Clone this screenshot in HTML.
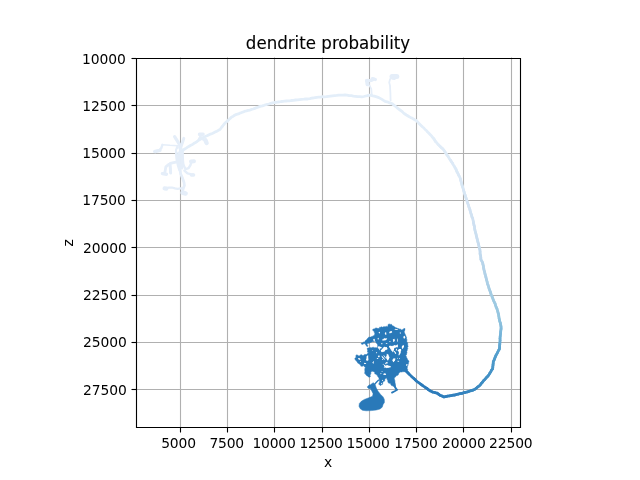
<!DOCTYPE html>
<html><head><meta charset="utf-8"><title>dendrite probability</title>
<style>
html,body{margin:0;padding:0;background:#fff;}
body{width:640px;height:480px;overflow:hidden;}
svg{display:block;}
text{font-family:"DejaVu Sans","Liberation Sans",sans-serif;fill:#000;}
.t{font-size:13.89px;}
.g{stroke:#b0b0b0;stroke-width:1.11;fill:none;}
.k{stroke:#000;stroke-width:1.11;fill:none;}
.n{fill:none;stroke-linecap:round;stroke-linejoin:round;}
</style></head><body>
<svg width="640" height="480" viewBox="0 0 640 480">
<rect width="640" height="480" fill="#fff"/>

<g class="g">
<path d="M180.5 57.6V427.2"/>
<path d="M227.5 57.6V427.2"/>
<path d="M274.5 57.6V427.2"/>
<path d="M322.5 57.6V427.2"/>
<path d="M369.5 57.6V427.2"/>
<path d="M416.5 57.6V427.2"/>
<path d="M463.5 57.6V427.2"/>
<path d="M511.5 57.6V427.2"/>
<path d="M136.0 58.5H520.0"/>
<path d="M136.0 105.5H520.0"/>
<path d="M136.0 153.5H520.0"/>
<path d="M136.0 200.5H520.0"/>
<path d="M136.0 247.5H520.0"/>
<path d="M136.0 295.5H520.0"/>
<path d="M136.0 342.5H520.0"/>
<path d="M136.0 389.5H520.0"/>
</g>
<clipPath id="c"><rect x="136" y="57.6" width="384" height="369.6"/></clipPath>
<g class="n" clip-path="url(#c)">
<path d="M174.6 136.6L176.8 140.2L179.4 144.4L180.2 147.5" stroke="#e5eef9" stroke-width="3.2"/>
<path d="M183.8 138.4L182.6 142.0L181.2 146.0L180.6 148.0" stroke="#e5eef9" stroke-width="3.0"/>
<path d="M177.5 145.7L170.0 145.3L162.4 144.7" stroke="#e5eef9" stroke-width="1.6"/>
<path d="M162.4 144.8L161.3 148.1L159.4 150.0L156.3 151.2L154.2 151.6" stroke="#e5eef9" stroke-width="2.4"/>
<path d="M155.0 151.5L160.0 150.4" stroke="#e5eef9" stroke-width="3.4"/>
<path d="M180.5 146.0L180.1 150.0L179.5 155.0L179.4 162.5L180.0 169.4L180.6 173.8L182.5 178.1L184.0 182.5L184.4 185.6L183.2 188.8L182.6 191.3L184.0 193.2" stroke="#e5eef9" stroke-width="2.78"/>
<path d="M177.4 147.2L176.3 150.2L176.4 155.0L177.0 160.0L178.2 165.5L179.6 170.0" stroke="#e5eef9" stroke-width="2.78"/>
<path d="M182.4 150.0L182.5 155.0L182.7 160.0L183.1 164.4" stroke="#e5eef9" stroke-width="2.78"/>
<path d="M179.0 152.5L179.0 165.0" stroke="#e5eef9" stroke-width="3.2"/>
<path d="M181.5 152.0L181.8 168.0" stroke="#e5eef9" stroke-width="3.0"/>
<path d="M177.0 161.8L171.3 163.1L168.8 164.4L165.8 166.9L165.1 171.3L164.4 173.4" stroke="#e5eef9" stroke-width="2.78"/>
<path d="M162.4 173.6L166.4 174.2" stroke="#e5eef9" stroke-width="3.4"/>
<path d="M170.0 164.0L170.4 168.5L170.6 173.0" stroke="#e5eef9" stroke-width="3.0"/>
<path d="M183.1 164.4L185.6 169.2L188.6 168.1L190.5 165.0L191.2 162.6" stroke="#e5eef9" stroke-width="2.4"/>
<path d="M191.0 161.6L194.0 161.2" stroke="#e5eef9" stroke-width="4.0"/>
<path d="M184.4 170.6L187.5 173.4L190.6 174.2L193.6 174.6" stroke="#e5eef9" stroke-width="2.4"/>
<path d="M191.4 175.0L193.6 175.0" stroke="#e5eef9" stroke-width="3.4"/>
<path d="M182.5 188.2L177.5 188.8L175.0 188.4L171.9 187.5L168.8 187.6L165.8 188.2" stroke="#e5eef9" stroke-width="2.2"/>
<path d="M164.6 188.4L166.4 188.6" stroke="#e5eef9" stroke-width="4.2"/>
<path d="M182.6 192.8L185.6 193.4" stroke="#e5eef9" stroke-width="4.6"/>
<path d="M198.8 139.6L200.4 136.5L201.6 134.4" stroke="#e5eef9" stroke-width="2.4"/>
<path d="M199.6 134.4L203.0 134.2" stroke="#e5eef9" stroke-width="3.6"/>
<path d="M202.5 139.0L205.5 140.2L206.2 142.2" stroke="#e5eef9" stroke-width="2.6"/>
<path d="M205.4 140.2L206.6 143.0" stroke="#e5eef9" stroke-width="4.4"/>
<path d="M371.8 95.0L371.3 88.8L369.5 85.4" stroke="#e5eef9" stroke-width="1.7"/>
<path d="M367.2 80.8L367.6 84.2" stroke="#e5eef9" stroke-width="4.2"/>
<path d="M366.6 80.6L371.0 80.4L373.6 79.2" stroke="#e5eef9" stroke-width="3.4"/>
<path d="M372.4 78.6L375.4 79.6" stroke="#e5eef9" stroke-width="3.2"/>
<path d="M390.6 100.5L390.4 93.0L390.0 85.6L389.2 82.5L390.0 79.4L391.4 77.2" stroke="#e5eef9" stroke-width="1.8"/>
<path d="M392.0 76.6L396.8 76.6" stroke="#e5eef9" stroke-width="5.0"/>
<path d="M392.5 78.4L394.5 78.6" stroke="#e5eef9" stroke-width="2.6"/>
<ellipse cx="177.9" cy="150.6" rx="0.8" ry="1.8" fill="#fff"/>
<path d="M182.5 150.6L184.4 149.2L186.2 148.1L187.6 147.2L189.2 146.2L190.8 145.2L192.5 144.5L194.0 143.3L195.7 142.5L197.2 141.3L198.9 140.2L200.3 139.3L201.6 138.3L203.0 137.6L205.2 136.6L207.5 135.6L209.1 134.8L210.5 134.1L212.3 133.5L213.7 132.8L215.3 131.9L217.0 131.2L218.4 130.3L220.0 129.5L221.3 127.7L222.7 126.0L223.8 124.5L224.9 123.2L226.1 122.1L227.6 120.9L228.9 119.6L230.1 118.5L231.3 117.2L233.3 116.2L235.0 115.0L236.5 114.4L238.4 113.9L240.1 113.0L241.6 112.6L243.2 111.9L244.9 111.2L246.5 110.9L248.2 110.4L250.0 110.1L251.4 109.4L253.2 109.0L254.8 108.4L256.2 107.7L257.8 107.3L259.5 106.6L260.9 106.2L262.4 105.8L264.1 105.3L265.5 104.8L267.2 104.4L268.9 104.0L270.7 103.4L272.6 102.8L274.5 102.5L276.2 102.3L277.8 102.0L279.5 101.8L281.2 101.5L282.9 101.3L284.6 101.1L286.2 101.0L287.8 100.9L289.5 100.9L291.3 100.5L293.3 100.3L295.4 100.0L297.6 99.9L299.6 99.6L301.6 99.3L303.8 99.2L306.0 99.0L307.8 99.0L310.0 98.6L311.7 98.2L313.3 98.0L315.1 97.6L316.8 97.3L318.7 97.2L320.6 97.1L322.4 96.7L324.5 96.8L326.4 96.7L328.5 96.4L330.4 96.1L332.5 95.8L334.5 95.6L336.6 95.4L338.9 95.1L341.0 95.2L343.1 95.1L344.9 95.0L347.0 95.2L349.2 95.6L351.4 95.7L353.4 96.1L355.3 96.3L357.6 96.7L359.8 96.7L361.9 96.9L363.8 96.5L365.8 96.0L367.5 95.7L369.5 95.1L371.0 95.4L372.9 95.9L374.3 96.2L376.7 96.9L378.8 97.6L380.2 98.4L382.0 99.4L383.5 100.4L385.0 101.3L387.0 101.8L388.7 102.4L390.5 103.2L392.4 103.8L393.6 105.0L395.0 105.9L396.3 107.1L397.5 108.2L400.0 110.0L401.3 110.9L402.5 111.9L403.6 113.1L404.9 114.0L406.4 115.0L407.7 115.8L409.2 116.7L410.5 117.4L411.9 118.1L413.5 119.0L414.9 119.9L416.4 120.6L417.6 121.9L418.8 123.2L420.0 124.4L421.3 125.7L422.6 127.0L423.9 128.0L425.1 129.5L426.4 130.5L427.4 131.8L428.7 133.0L429.9 134.4L431.4 135.7L432.2 137.0L433.4 138.2" stroke="#e3eef9" stroke-width="2.78"/>
<path d="M433.4 138.2L434.5 139.8" stroke="#e2eef8" stroke-width="2.78"/>
<path d="M434.5 139.8L435.3 141.2" stroke="#e2eef8" stroke-width="2.78"/>
<path d="M435.3 141.2L436.4 142.4L437.6 143.9L438.7 145.0" stroke="#e2edf8" stroke-width="2.78"/>
<path d="M438.7 145.0L440.0 146.2" stroke="#e2edf8" stroke-width="2.78"/>
<path d="M440.0 146.2L441.2 147.5" stroke="#e1ecf8" stroke-width="2.78"/>
<path d="M441.2 147.5L442.6 148.6" stroke="#e0ecf8" stroke-width="2.78"/>
<path d="M442.6 148.6L443.8 150.0L444.7 151.4" stroke="#e0ecf8" stroke-width="2.78"/>
<path d="M444.7 151.4L445.8 153.0" stroke="#e0ecf8" stroke-width="2.78"/>
<path d="M445.8 153.0L446.7 154.6" stroke="#dfecf8" stroke-width="2.78"/>
<path d="M446.7 154.6L447.9 156.1" stroke="#deebf7" stroke-width="2.78"/>
<path d="M447.9 156.1L448.7 157.4L449.6 159.1L450.6 160.3" stroke="#deebf7" stroke-width="2.78"/>
<path d="M450.6 160.3L451.6 162.0" stroke="#deeaf7" stroke-width="2.78"/>
<path d="M451.6 162.0L452.6 163.3" stroke="#deeaf7" stroke-width="2.78"/>
<path d="M452.6 163.3L453.4 165.0L454.4 166.4L455.1 167.8" stroke="#ddeaf7" stroke-width="2.78"/>
<path d="M455.1 167.8L456.1 169.5" stroke="#dceaf7" stroke-width="2.78"/>
<path d="M456.1 169.5L456.7 171.2" stroke="#dceaf7" stroke-width="2.78"/>
<path d="M456.7 171.2L457.6 172.8" stroke="#dceaf6" stroke-width="2.78"/>
<path d="M457.6 172.8L458.3 174.4" stroke="#dce9f6" stroke-width="2.78"/>
<path d="M458.3 174.4L459.1 176.0" stroke="#dce9f6" stroke-width="2.78"/>
<path d="M459.1 176.0L460.0 177.5L460.5 179.2" stroke="#dbe9f6" stroke-width="2.78"/>
<path d="M460.5 179.2L460.8 180.6" stroke="#dae8f6" stroke-width="2.78"/>
<path d="M460.8 180.6L461.3 182.3" stroke="#dae8f6" stroke-width="2.78"/>
<path d="M461.3 182.3L461.7 183.9" stroke="#dae8f6" stroke-width="2.78"/>
<path d="M461.7 183.9L462.1 185.5" stroke="#d9e8f5" stroke-width="2.78"/>
<path d="M462.1 185.5L462.6 187.1" stroke="#d8e8f5" stroke-width="2.78"/>
<path d="M462.6 187.1L463.2 188.7L463.6 190.3" stroke="#d8e7f5" stroke-width="2.78"/>
<path d="M463.6 190.3L464.1 191.9" stroke="#d8e6f5" stroke-width="2.78"/>
<path d="M464.1 191.9L464.5 193.5" stroke="#d7e6f5" stroke-width="2.78"/>
<path d="M464.5 193.5L465.2 195.2" stroke="#d7e6f4" stroke-width="2.78"/>
<path d="M465.2 195.2L465.5 196.8" stroke="#d7e6f4" stroke-width="2.78"/>
<path d="M465.5 196.8L466.2 198.3" stroke="#d6e6f4" stroke-width="2.78"/>
<path d="M466.2 198.3L466.7 200.0L467.2 201.8" stroke="#d6e5f4" stroke-width="2.78"/>
<path d="M467.2 201.8L467.7 203.3" stroke="#d6e4f4" stroke-width="2.78"/>
<path d="M467.7 203.3L468.4 205.1" stroke="#d4e4f4" stroke-width="2.78"/>
<path d="M468.4 205.1L468.8 206.8" stroke="#d4e4f4" stroke-width="2.78"/>
<path d="M468.8 206.8L469.5 208.4" stroke="#d4e4f3" stroke-width="2.78"/>
<path d="M469.5 208.4L470.0 210.0" stroke="#d4e3f3" stroke-width="2.78"/>
<path d="M470.0 210.0L470.4 211.6" stroke="#d2e3f3" stroke-width="2.78"/>
<path d="M470.4 211.6L470.9 213.4" stroke="#d2e2f3" stroke-width="2.78"/>
<path d="M470.9 213.4L471.5 214.9" stroke="#d2e2f2" stroke-width="2.78"/>
<path d="M471.5 214.9L471.9 216.8" stroke="#d2e2f2" stroke-width="2.78"/>
<path d="M471.9 216.8L472.7 218.4" stroke="#d0e2f2" stroke-width="2.78"/>
<path d="M472.7 218.4L473.0 219.9L473.4 221.7" stroke="#d0e1f2" stroke-width="2.78"/>
<path d="M473.4 221.7L473.6 223.3" stroke="#d0e1f2" stroke-width="2.78"/>
<path d="M473.6 223.3L474.0 225.1" stroke="#cee0f2" stroke-width="2.78"/>
<path d="M474.0 225.1L474.5 226.7" stroke="#cee0f2" stroke-width="2.78"/>
<path d="M474.5 226.7L474.6 228.5" stroke="#cee0f1" stroke-width="2.78"/>
<path d="M474.6 228.5L474.9 230.0" stroke="#cee0f1" stroke-width="2.78"/>
<path d="M474.9 230.0L475.3 231.6" stroke="#cce0f1" stroke-width="2.78"/>
<path d="M475.3 231.6L475.8 233.3" stroke="#cce0f1" stroke-width="2.78"/>
<path d="M475.8 233.3L476.2 235.0" stroke="#ccdff0" stroke-width="2.78"/>
<path d="M476.2 235.0L476.5 236.6" stroke="#ccdff0" stroke-width="2.78"/>
<path d="M476.5 236.6L477.0 238.3" stroke="#cadef0" stroke-width="2.78"/>
<path d="M477.0 238.3L477.4 239.9" stroke="#cadef0" stroke-width="2.78"/>
<path d="M477.4 239.9L477.8 241.6" stroke="#cadef0" stroke-width="2.78"/>
<path d="M477.8 241.6L478.3 243.3" stroke="#c8def0" stroke-width="2.78"/>
<path d="M478.3 243.3L478.7 245.0" stroke="#c8dcef" stroke-width="2.78"/>
<path d="M478.7 245.0L479.1 246.8" stroke="#c6dcef" stroke-width="2.78"/>
<path d="M479.1 246.8L479.4 248.3" stroke="#c6dcee" stroke-width="2.78"/>
<path d="M479.4 248.3L479.9 249.9" stroke="#c4dcee" stroke-width="2.78"/>
<path d="M479.9 249.9L480.1 251.9" stroke="#c4daee" stroke-width="2.78"/>
<path d="M480.1 251.9L480.1 253.9" stroke="#c2daee" stroke-width="2.78"/>
<path d="M480.1 253.9L480.6 255.7" stroke="#c2daee" stroke-width="2.78"/>
<path d="M480.6 255.7L480.8 257.6" stroke="#c0d9ed" stroke-width="2.78"/>
<path d="M480.8 257.6L480.9 259.4" stroke="#c0d8ed" stroke-width="2.78"/>
<path d="M480.9 259.4L481.8 261.1" stroke="#bed7ec" stroke-width="2.78"/>
<path d="M481.8 261.1L482.6 262.6" stroke="#bad6eb" stroke-width="2.78"/>
<path d="M482.6 262.6L482.9 264.2" stroke="#b8d5ea" stroke-width="2.78"/>
<path d="M482.9 264.2L483.3 265.8" stroke="#b8d4ea" stroke-width="2.78"/>
<path d="M483.3 265.8L483.5 267.2" stroke="#b6d4e9" stroke-width="2.78"/>
<path d="M483.5 267.2L483.8 268.9" stroke="#b6d4e9" stroke-width="2.78"/>
<path d="M483.8 268.9L484.2 270.7" stroke="#b6d3e9" stroke-width="2.78"/>
<path d="M484.2 270.7L484.7 272.2" stroke="#b4d2e8" stroke-width="2.78"/>
<path d="M484.7 272.2L485.0 273.9" stroke="#b4d2e8" stroke-width="2.78"/>
<path d="M485.0 273.9L485.4 275.3" stroke="#b2d2e8" stroke-width="2.78"/>
<path d="M485.4 275.3L485.9 277.2" stroke="#b2d2e8" stroke-width="2.78"/>
<path d="M485.9 277.2L486.3 278.8" stroke="#b0d0e7" stroke-width="2.78"/>
<path d="M486.3 278.8L486.7 280.3" stroke="#afd0e7" stroke-width="2.78"/>
<path d="M486.7 280.3L487.2 282.1" stroke="#aed0e6" stroke-width="2.78"/>
<path d="M487.2 282.1L487.4 283.7" stroke="#acd0e6" stroke-width="2.78"/>
<path d="M487.4 283.7L488.1 285.3" stroke="#accfe6" stroke-width="2.78"/>
<path d="M488.1 285.3L488.7 287.1" stroke="#aacee6" stroke-width="2.78"/>
<path d="M488.7 287.1L489.1 288.6" stroke="#aacee5" stroke-width="2.78"/>
<path d="M489.1 288.6L489.7 290.3" stroke="#a8cee4" stroke-width="2.78"/>
<path d="M489.7 290.3L490.3 291.8" stroke="#a6cde4" stroke-width="2.78"/>
<path d="M490.3 291.8L490.8 293.3" stroke="#a6cce4" stroke-width="2.78"/>
<path d="M490.8 293.3L491.2 294.9" stroke="#a4cce3" stroke-width="2.78"/>
<path d="M491.2 294.9L492.1 296.7" stroke="#a4cce3" stroke-width="2.78"/>
<path d="M492.1 296.7L492.8 298.4" stroke="#a2cce3" stroke-width="2.78"/>
<path d="M492.8 298.4L493.4 300.2" stroke="#a1cbe2" stroke-width="2.78"/>
<path d="M493.4 300.2L494.3 302.1" stroke="#a0cae2" stroke-width="2.78"/>
<path d="M494.3 302.1L495.1 303.7" stroke="#9ecae2" stroke-width="2.78"/>
<path d="M495.1 303.7L495.6 305.5" stroke="#9ecae2" stroke-width="2.78"/>
<path d="M495.6 305.5L496.2 307.2" stroke="#9cc9e2" stroke-width="2.78"/>
<path d="M496.2 307.2L497.0 308.9" stroke="#9cc8e1" stroke-width="2.78"/>
<path d="M497.0 308.9L497.6 310.9" stroke="#9ac8e0" stroke-width="2.78"/>
<path d="M497.6 310.9L498.0 312.5" stroke="#9ac8e0" stroke-width="2.78"/>
<path d="M498.0 312.5L498.6 314.5" stroke="#98c6e0" stroke-width="2.78"/>
<path d="M498.6 314.5L498.8 316.2" stroke="#96c6e0" stroke-width="2.78"/>
<path d="M498.8 316.2L499.1 318.3" stroke="#95c6de" stroke-width="2.78"/>
<path d="M499.1 318.3L499.5 320.0" stroke="#93c4de" stroke-width="2.78"/>
<path d="M499.5 320.0L499.8 321.6" stroke="#90c3de" stroke-width="2.78"/>
<path d="M499.8 321.6L500.4 323.1" stroke="#8ec2de" stroke-width="2.78"/>
<path d="M500.4 323.1L500.7 324.8" stroke="#8cc0dd" stroke-width="2.78"/>
<path d="M500.7 324.8L501.0 326.5" stroke="#89bedc" stroke-width="2.78"/>
<path d="M501.0 326.5L501.1 328.1" stroke="#86bddc" stroke-width="2.78"/>
<path d="M501.1 328.1L501.0 329.5" stroke="#84bbdc" stroke-width="2.78"/>
<path d="M501.0 329.5L500.7 331.3" stroke="#80b9da" stroke-width="2.78"/>
<path d="M500.7 331.3L500.6 332.9" stroke="#7cb8da" stroke-width="2.78"/>
<path d="M500.6 332.9L500.4 334.6" stroke="#79b6da" stroke-width="2.78"/>
<path d="M500.4 334.6L500.2 336.4" stroke="#76b4d8" stroke-width="2.78"/>
<path d="M500.2 336.4L500.0 338.4" stroke="#72b2d8" stroke-width="2.78"/>
<path d="M500.0 338.4L500.1 340.3" stroke="#6eb0d6" stroke-width="2.78"/>
<path d="M500.1 340.3L499.9 342.6" stroke="#6aadd6" stroke-width="2.78"/>
<path d="M499.9 342.6L499.8 344.1" stroke="#66abd4" stroke-width="2.78"/>
<path d="M499.8 344.1L499.6 345.7" stroke="#64a9d3" stroke-width="2.78"/>
<path d="M499.6 345.7L499.6 347.4" stroke="#60a7d2" stroke-width="2.78"/>
<path d="M499.6 347.4L499.4 349.0" stroke="#5ea5d0" stroke-width="2.78"/>
<path d="M499.4 349.0L498.5 350.5" stroke="#5ba3d0" stroke-width="2.78"/>
<path d="M498.5 350.5L497.6 352.4" stroke="#59a2ce" stroke-width="2.78"/>
<path d="M497.6 352.4L496.8 354.0" stroke="#56a0ce" stroke-width="2.78"/>
<path d="M496.8 354.0L495.9 355.4" stroke="#549fce" stroke-width="2.78"/>
<path d="M495.9 355.4L495.3 356.9" stroke="#529ecc" stroke-width="2.78"/>
<path d="M495.3 356.9L494.6 358.6" stroke="#519ccc" stroke-width="2.78"/>
<path d="M494.6 358.6L494.1 360.1" stroke="#509ccc" stroke-width="2.78"/>
<path d="M494.1 360.1L493.3 361.6" stroke="#4e9aca" stroke-width="2.78"/>
<path d="M493.3 361.6L493.2 363.3" stroke="#4d9aca" stroke-width="2.78"/>
<path d="M493.2 363.3L493.0 365.0" stroke="#4c98ca" stroke-width="2.78"/>
<path d="M493.0 365.0L492.8 367.0" stroke="#4a98c8" stroke-width="2.78"/>
<path d="M492.8 367.0L492.6 368.8" stroke="#4996c8" stroke-width="2.78"/>
<path d="M492.6 368.8L491.5 370.2" stroke="#4896c8" stroke-width="2.78"/>
<path d="M491.5 370.2L490.8 371.8" stroke="#4694c8" stroke-width="2.78"/>
<path d="M490.8 371.8L489.7 373.4" stroke="#4694c6" stroke-width="2.78"/>
<path d="M489.7 373.4L488.7 375.1" stroke="#4492c6" stroke-width="2.78"/>
<path d="M488.7 375.1L487.7 376.3" stroke="#4492c6" stroke-width="2.78"/>
<path d="M487.7 376.3L486.3 377.7" stroke="#4290c6" stroke-width="2.78"/>
<path d="M486.3 377.7L485.1 379.2" stroke="#4290c4" stroke-width="2.78"/>
<path d="M485.1 379.2L483.7 380.5" stroke="#408ec4" stroke-width="2.78"/>
<path d="M483.7 380.5L482.5 382.1" stroke="#408ec4" stroke-width="2.78"/>
<path d="M482.5 382.1L481.3 383.4" stroke="#3e8ec4" stroke-width="2.78"/>
<path d="M481.3 383.4L480.2 385.0" stroke="#3e8cc2" stroke-width="2.78"/>
<path d="M480.2 385.0L478.8 386.2" stroke="#3e8cc2" stroke-width="2.78"/>
<path d="M478.8 386.2L477.4 387.2" stroke="#3c8cc2" stroke-width="2.78"/>
<path d="M477.4 387.2L476.2 388.2" stroke="#3c8ac2" stroke-width="2.78"/>
<path d="M476.2 388.2L474.9 389.3" stroke="#3a8ac1" stroke-width="2.78"/>
<path d="M474.9 389.3L473.1 390.1" stroke="#3a88c1" stroke-width="2.78"/>
<path d="M473.1 390.1L471.3 390.6" stroke="#3888c0" stroke-width="2.78"/>
<path d="M471.3 390.6L469.3 391.3" stroke="#3888c0" stroke-width="2.78"/>
<path d="M469.3 391.3L467.5 391.9" stroke="#3886c0" stroke-width="2.78"/>
<path d="M467.5 391.9L465.5 392.3" stroke="#3686c0" stroke-width="2.78"/>
<path d="M465.5 392.3L463.9 392.7" stroke="#3684c0" stroke-width="2.78"/>
<path d="M463.9 392.7L461.9 393.4" stroke="#3684be" stroke-width="2.78"/>
<path d="M461.9 393.4L460.1 393.7" stroke="#3482be" stroke-width="2.78"/>
<path d="M460.1 393.7L458.2 394.1" stroke="#3482be" stroke-width="2.78"/>
<path d="M458.2 394.1L456.5 394.5" stroke="#3482be" stroke-width="2.78"/>
<path d="M456.5 394.5L454.9 395.0" stroke="#3381be" stroke-width="2.78"/>
<path d="M454.9 395.0L453.2 395.1" stroke="#3280bd" stroke-width="2.78"/>
<path d="M453.2 395.1L451.2 395.7" stroke="#3280bd" stroke-width="2.78"/>
<path d="M451.2 395.7L449.5 395.9" stroke="#3280bd" stroke-width="2.78"/>
<path d="M449.5 395.9L447.6 396.1" stroke="#3080bc" stroke-width="2.78"/>
<path d="M447.6 396.1L445.6 396.6" stroke="#307ebc" stroke-width="2.78"/>
<path d="M445.6 396.6L443.9 396.9" stroke="#307ebc" stroke-width="2.78"/>
<path d="M443.9 396.9L442.0 396.0" stroke="#2e7ebc" stroke-width="2.78"/>
<path d="M442.0 396.0L439.9 395.2" stroke="#2e7ebc" stroke-width="2.78"/>
<path d="M439.9 395.2L438.5 394.2" stroke="#2e7cbc" stroke-width="2.78"/>
<path d="M438.5 394.2L437.1 393.1" stroke="#2e7cbc" stroke-width="2.78"/>
<path d="M437.1 393.1L434.8 392.6" stroke="#2e7cba" stroke-width="2.78"/>
<path d="M434.8 392.6L432.5 392.0" stroke="#2e7cba" stroke-width="2.78"/>
<path d="M432.5 392.0L429.9 390.7" stroke="#2c7cba" stroke-width="2.78"/>
<path d="M429.9 390.7L428.4 389.7" stroke="#2c7bba" stroke-width="2.78"/>
<path d="M428.4 389.7L426.9 388.4" stroke="#2c7aba" stroke-width="2.78"/>
<path d="M426.9 388.4L425.2 387.3" stroke="#2c7aba" stroke-width="2.78"/>
<path d="M425.2 387.3L423.8 386.4L422.1 385.1" stroke="#2b7aba" stroke-width="2.78"/>
<path d="M422.1 385.1L420.7 384.1" stroke="#2a7aba" stroke-width="2.78"/>
<path d="M420.7 384.1L419.0 382.9L417.5 381.8L416.2 380.8L415.2 379.7" stroke="#2a7aba" stroke-width="2.78"/>
<path d="M415.2 379.7L413.9 378.5" stroke="#2a7aba" stroke-width="2.78"/>
<path d="M413.9 378.5L412.5 377.3L411.4 376.4L410.0 374.9L408.8 373.8" stroke="#2a7ab9" stroke-width="2.78"/>
<path d="M408.8 373.8L407.5 372.4" stroke="#2a7ab9" stroke-width="2.78"/>
<path d="M407.5 372.4L406.3 371.4L404.9 369.9L403.6 368.8L402.4 367.6L401.0 366.5" stroke="#2979b9" stroke-width="2.78"/>
<path d="M379.79 327.24L380.85 327.21L382.00 326.70L382.46 327.24L383.61 326.69L385.00 326.76L385.67 326.64L386.31 326.26L387.11 326.71L387.82 326.49L388.09 325.00L388.31 324.47L388.74 323.92L389.99 324.18L390.68 324.40L391.47 324.34L391.92 325.01L392.66 325.88L393.70 325.98L393.84 326.57L395.24 327.25L395.70 327.64L396.41 327.86L397.08 328.17L398.07 328.57L398.95 328.74L399.86 329.19L400.49 328.93L401.41 329.97L402.22 330.06L402.77 329.37L403.57 329.26L403.83 328.45L404.98 328.79L404.37 329.74L404.63 330.32L404.19 331.77L404.30 332.14L404.59 333.09L405.17 334.26L405.74 335.62L405.87 336.47L406.15 336.56L406.58 337.56L406.46 338.89L406.99 339.72L406.73 341.33L407.15 342.43L407.82 343.00L407.54 343.92L407.77 344.78L407.77 345.60L408.15 346.31L407.64 347.31L407.39 347.81L407.88 348.82L407.39 349.33L407.13 350.71L406.67 351.67L407.01 352.15L406.78 353.25L406.59 353.93L406.39 355.02L405.62 355.25L406.44 356.80L406.40 357.23L406.97 357.96L407.27 358.75L407.75 359.78L408.17 360.40L409.02 360.92L408.68 362.41L408.30 362.93L408.52 363.87L407.85 364.95L407.96 365.46L407.36 366.42L407.47 367.28L407.18 367.84L407.14 369.02L407.94 369.66L407.78 370.20L407.19 370.75L406.58 371.77L405.25 371.82L404.65 371.71L403.71 371.68L402.24 371.83L401.84 372.02L400.68 371.98L399.94 371.83L399.70 372.46L398.34 373.92L398.40 374.79L397.21 375.39L396.78 375.44L395.80 376.57L395.13 377.22L394.23 377.97L394.24 378.63L394.59 379.69L394.83 380.38L394.96 381.77L395.04 382.82L394.92 383.39L394.11 384.36L394.14 384.84L394.03 385.67L393.33 386.65L392.79 385.74L391.80 385.72L391.28 385.23L390.53 383.81L390.03 383.35L388.90 383.13L388.67 382.94L387.76 382.11L387.90 381.84L387.74 380.42L387.31 379.79L386.84 378.91L386.52 377.70L385.29 378.75L384.70 379.65L384.75 381.02L383.40 381.47L382.95 382.05L382.68 383.42L382.57 384.29L381.30 384.86L380.30 385.64L379.97 384.90L378.66 384.14L379.03 383.45L379.49 382.24L379.64 381.40L379.25 380.40L379.20 379.86L379.04 379.06L378.97 377.90L378.53 377.42L377.66 376.37L377.44 375.90L377.22 374.97L376.57 374.78L375.43 374.00L374.70 373.75L374.83 373.01L374.63 372.03L373.79 371.65L372.48 371.37L371.60 370.71L371.75 371.57L370.74 372.55L370.90 373.54L370.12 374.91L370.10 375.74L370.44 376.57L369.91 376.96L369.04 377.13L368.39 376.88L367.72 375.94L367.12 375.97L365.95 374.86L365.82 374.63L365.03 373.48L364.50 373.19L365.00 371.98L364.79 370.95L364.88 369.93L364.67 368.90L365.38 367.73L364.66 366.80L364.09 366.54L363.54 365.61L362.49 366.21L361.92 366.32L360.74 366.07L360.87 365.15L359.95 364.58L358.80 363.56L357.86 363.17L357.35 362.05L357.05 361.80L356.14 360.76L355.43 360.08L354.77 358.81L355.27 357.87L356.28 357.41L355.89 356.39L355.86 355.72L356.61 354.79L357.52 355.01L358.14 355.73L359.06 356.05L359.52 355.68L360.55 354.92L361.19 354.87L361.72 354.68L362.29 355.47L363.42 355.44L364.33 354.64L364.58 354.43L365.35 354.56L366.69 354.39L367.00 354.04L367.85 353.36L368.98 352.77L367.47 352.17L367.56 350.84L367.71 350.14L367.18 348.92L367.45 348.09L368.15 348.05L369.62 347.77L370.18 347.44L370.84 347.75L371.59 347.81L373.03 347.18L373.85 347.40L374.52 347.71L374.94 347.64L376.02 347.74L376.51 347.70L377.87 347.64L377.56 346.36L377.56 345.72L377.77 345.14L377.25 343.95L376.92 343.50L376.14 342.91L375.52 341.30L374.71 341.31L373.20 341.78L372.38 341.64L371.67 342.12L370.65 342.44L369.30 343.17L368.70 343.33L367.19 343.59L367.05 344.57L367.76 345.27L367.70 346.40L367.02 346.58L366.32 345.90L366.13 345.47L365.63 344.80L365.09 343.62L363.68 343.59L363.12 344.33L361.55 344.15L361.13 343.19L362.38 342.95L363.12 342.22L363.89 342.00L364.92 342.05L365.09 341.03L365.99 340.09L366.44 340.01L367.13 339.01L367.39 338.57L368.03 338.28L368.65 337.14L369.89 337.09L370.78 337.08L371.20 336.77L372.63 336.19L373.47 335.82L374.15 335.52L374.63 334.40L374.82 333.41L374.45 332.87L374.18 331.38L373.57 330.93L372.44 329.89L373.32 329.03L374.30 329.08L374.86 328.40L376.11 327.88L377.19 328.33L378.19 328.50L378.99 328.27L379.65 328.15Z" fill="#2979b9" stroke="#2979b9" stroke-width="0.5"/>
<path d="M388.87 346.04L389.95 345.78L390.50 345.65L391.06 345.81L392.08 346.18L392.51 345.63L393.25 345.69L394.62 345.08L395.79 345.48L396.43 345.14L396.96 344.64L398.02 344.54L397.88 345.45L397.85 346.38L398.16 347.41L397.48 347.32L396.73 347.36L395.97 347.17L395.60 347.75L394.80 347.72L394.29 348.14L394.07 348.74L394.06 349.59L393.81 350.23L393.57 351.51L392.70 352.13L392.55 352.18L392.24 351.34L391.34 350.68L391.17 349.66L390.15 348.90L390.28 348.45L389.37 347.45L389.01 346.54Z" fill="#fff"/>
<path d="M383.58 347.29L384.50 346.84L384.91 346.82L385.91 347.14L387.01 347.06L387.03 348.05L386.89 348.86L386.30 349.61L385.64 350.02L385.04 350.41L384.70 351.54L384.11 351.56L382.74 352.35L382.21 351.80L381.69 352.27L380.97 351.15L380.78 350.29L381.54 349.66L382.05 349.06L382.20 348.99L382.94 347.95Z" fill="#fff"/>
<path d="M377.86 346.31L378.86 346.56L379.31 346.34L380.05 346.64L381.17 346.88L381.82 347.23L381.38 348.26L381.00 348.52L379.81 348.47L379.69 350.02L379.19 350.18L379.00 349.45L378.87 348.78L377.85 348.31L377.99 347.30Z" fill="#fff"/>
<path d="M397.36 350.12L398.36 349.90L398.80 349.12L399.74 349.00L400.38 348.96L401.34 348.97L400.97 349.48L401.24 350.41L400.72 351.52L400.81 351.96L400.63 353.10L400.07 353.89L399.71 354.50L399.35 355.22L399.19 355.24L398.49 355.16L398.53 354.56L398.85 353.23L399.05 352.68L398.46 351.71L398.52 351.31L397.77 350.62Z" fill="#fff"/>
<path d="M374.84 340.10L374.84 341.01L374.17 341.32L373.67 340.84L373.40 340.38L373.21 339.73L373.52 339.03L374.18 338.82L374.78 339.26Z" fill="#fff"/>
<path d="M392.01 331.36L392.05 331.75L392.18 332.20L391.78 332.83L390.95 332.87L390.41 333.30L389.92 333.25L389.36 333.21L389.40 332.71L389.22 332.19L389.77 331.53L390.59 331.30L391.22 331.04L391.50 331.37Z" fill="#fff"/>
<path d="M398.31 329.77L397.89 329.88L397.64 330.04L396.65 329.80L396.10 329.96L395.52 329.66L394.88 329.49L394.65 329.29L394.31 329.07L394.48 328.91L395.21 328.96L395.54 328.82L396.29 328.90L397.15 329.03L397.30 329.32L397.63 329.50Z" fill="#fff"/>
<path d="M401.02 333.10L400.70 333.60L400.14 333.82L399.79 333.34L399.65 332.79L400.17 332.51L400.83 332.44Z" fill="#fff"/>
<path d="M405.38 337.40L405.06 338.11L404.60 338.34L404.14 339.00L403.74 338.34L403.37 337.79L403.42 337.03L403.56 336.16L404.16 336.04L404.78 335.87L404.92 336.83Z" fill="#fff"/>
<path d="M387.27 338.49L386.39 339.07L387.02 339.32L386.26 339.73L385.78 340.14L384.99 340.35L384.35 340.46L383.83 340.49L383.42 340.44L382.79 340.54L382.27 340.48L382.31 340.15L382.20 339.85L382.06 339.45L383.35 339.17L383.56 338.67L384.29 338.26L385.03 338.27L385.40 338.52L386.14 338.31L387.02 338.20Z" fill="#fff"/>
<path d="M395.17 340.30L394.56 340.82L394.37 341.33L394.03 341.92L393.50 341.90L393.13 341.32L393.17 340.57L392.76 339.88L393.02 339.13L393.65 339.30L394.02 338.84L394.55 338.88L394.61 339.74Z" fill="#fff"/>
<path d="M397.76 340.00L397.68 340.60L397.66 341.34L397.53 341.64L397.40 342.01L397.24 341.94L397.12 341.44L397.04 340.77L397.02 340.00L397.04 339.23L397.21 339.02L397.27 338.40L397.40 338.67L397.54 338.29L397.63 338.83L397.63 339.50Z" fill="#fff"/>
<path d="M382.45 343.60L382.28 344.25L381.45 344.37L381.18 343.60L381.57 343.03L382.18 343.12Z" fill="#fff"/>
<path d="M403.70 347.21L403.48 347.83L403.15 348.33L402.76 348.51L402.24 349.00L401.95 348.51L401.83 347.87L401.80 347.13L401.92 346.26L402.45 345.83L402.84 345.21L403.34 344.90L403.68 345.30L403.94 345.78L404.10 346.44Z" fill="#fff"/>
<path d="M387.52 348.70L387.25 349.43L386.78 349.85L386.23 349.81L385.82 349.36L385.61 348.70L385.77 347.99L386.28 347.78L386.71 347.86L387.30 347.92Z" fill="#fff"/>
<path d="M368.26 358.40L368.53 359.10L368.38 359.69L368.31 360.41L367.89 360.17L367.76 360.77L367.54 361.34L367.30 360.54L367.01 360.95L366.80 360.58L366.48 360.44L366.06 360.16L366.10 359.20L366.48 358.40L366.46 357.82L366.60 357.36L366.39 356.15L366.78 356.14L367.09 356.34L367.23 354.87L367.54 355.47L367.76 356.05L368.24 355.36L368.23 356.56L368.16 357.40L368.32 357.83Z" fill="#fff"/>
<path d="M360.56 358.90L360.26 359.71L359.35 359.67L358.75 359.62L358.42 359.16L358.03 358.51L358.55 357.88L359.39 357.90L359.82 358.43Z" fill="#fff"/>
<path d="M366.15 363.40L365.73 363.69L365.33 364.11L364.43 364.03L363.89 363.64L364.14 363.21L364.53 362.86L365.25 362.93L366.09 362.95Z" fill="#fff"/>
<path d="M373.70 362.60L373.73 363.24L373.43 363.54L373.11 363.75L372.86 363.32L372.69 362.88L372.38 362.16L372.87 361.89L373.10 361.28L373.52 361.28L373.86 361.81Z" fill="#fff"/>
<path d="M379.67 356.40L379.60 356.93L379.08 357.35L378.28 357.37L377.77 356.77L378.13 356.15L378.36 355.55L379.06 355.57L379.73 355.77Z" fill="#fff"/>
<path d="M384.51 359.38L385.06 360.30L384.39 359.66L384.00 359.38L383.54 358.93L383.06 358.47L382.50 357.92L381.96 357.25L381.53 356.61L381.41 356.23L381.89 356.48L381.90 356.34L381.89 356.18L381.58 355.55L382.11 356.06L382.33 356.03L382.94 356.92L383.42 357.15L383.78 357.79L384.12 358.28L384.55 358.85L384.64 359.15L385.28 360.03Z" fill="#fff"/>
<path d="M385.96 358.22L385.50 357.90L385.27 357.88L384.80 357.57L384.29 356.86L383.99 356.36L383.38 355.67L383.70 355.70L383.65 355.47L383.51 355.03L383.93 355.32L384.41 355.67L384.89 356.36L385.17 356.83L385.59 357.36L385.56 357.55Z" fill="#fff"/>
<path d="M389.67 357.10L389.33 357.85L389.10 358.48L388.91 359.10L388.55 359.41L388.40 360.54L387.87 359.75L387.48 360.44L387.00 360.55L386.91 359.26L386.82 358.56L385.95 358.82L385.80 357.98L386.49 357.10L385.89 356.26L386.67 356.08L386.62 355.30L386.70 354.38L386.98 353.54L387.53 354.48L387.91 353.92L388.25 354.39L388.52 354.87L388.68 355.48L388.83 355.99L388.87 356.56Z" fill="#fff"/>
<path d="M390.29 366.60L391.18 366.97L390.41 367.23L389.88 367.47L389.08 367.56L388.58 367.76L387.98 367.99L387.20 367.64L386.28 368.24L386.11 367.52L384.96 367.74L384.40 367.51L383.59 367.31L384.51 366.85L384.09 366.60L384.91 366.39L383.91 365.96L384.06 365.58L385.54 365.76L385.58 365.23L386.40 365.18L387.20 365.33L388.11 364.98L388.18 365.77L389.57 365.40L389.08 365.99L390.51 365.95L390.91 366.26Z" fill="#fff"/>
<path d="M395.67 352.17L396.15 352.92L396.19 353.49L395.84 353.49L395.69 353.62L395.64 354.10L395.20 353.92L394.80 353.04L394.50 352.49L394.13 351.85L393.83 351.06L394.23 351.12L394.42 350.93L394.75 350.92L395.20 351.81Z" fill="#fff"/>
<path d="M395.02 360.65L394.51 360.97L394.10 361.46L393.43 362.18L392.96 361.63L392.80 361.00L392.40 360.61L392.10 359.94L392.84 359.39L393.18 358.84L393.66 358.30L394.16 358.79L395.00 358.09L395.33 358.71L395.31 359.43L395.05 360.04Z" fill="#fff"/>
<path d="M387.66 362.80L387.59 363.28L387.04 363.79L386.36 363.36L385.53 363.14L385.95 362.57L386.35 362.23L387.03 361.84L387.53 362.36Z" fill="#fff"/>
<path d="M407.64 365.10L407.16 365.61L406.70 365.95L406.24 365.62L405.88 365.10L406.07 364.39L406.70 364.24L407.51 364.21Z" fill="#fff"/>
<path d="M386.07 374.30L386.05 374.81L385.18 374.97L384.50 374.90L384.00 374.80L383.06 374.78L383.32 374.30L383.45 373.95L383.80 373.61L384.50 373.27L385.30 373.51L385.95 373.82Z" fill="#fff"/>
<path d="M399.34 361.20L399.03 361.57L398.30 361.64L397.68 361.51L397.38 361.20L397.61 360.86L398.30 360.66L398.81 360.95Z" fill="#fff"/>
<path d="M378.42 358.60L378.09 358.87L377.60 359.03L377.08 358.89L376.63 358.60L376.93 358.23L377.60 357.95L378.37 358.17Z" fill="#fff"/>
<path d="M383.72 364.40L383.40 364.82L382.93 364.96L382.77 364.40L382.99 363.96L383.51 363.77Z" fill="#fff"/>
<path d="M386.43 363.60L386.20 364.20L385.62 364.17L385.20 363.60L385.53 362.84L386.23 362.94Z" fill="#fff"/>
<path d="M396.95 349.70L396.72 350.20L396.40 350.86L395.94 350.43L395.84 349.70L396.06 349.17L396.40 348.72L396.95 348.83Z" fill="#fff"/>
<path d="M380.04 332.60L379.78 333.42L379.11 333.22L378.65 332.60L379.04 331.82L379.63 332.10Z" fill="#fff"/>
<path d="M386.24 333.60L386.48 334.50L385.78 334.85L385.19 334.46L384.92 333.90L384.83 333.26L385.12 332.58L385.80 332.24L386.35 332.83Z" fill="#fff"/>
<path d="M378.74 338.70L378.65 339.53L378.10 339.55L377.71 339.28L377.57 338.70L377.80 338.24L378.10 337.81L378.63 337.90Z" fill="#fff"/>
<path d="M387.34 343.50L387.16 343.88L386.40 343.84L385.93 343.74L385.63 343.50L385.94 343.27L386.40 343.10L387.17 343.11Z" fill="#fff"/>
<path d="M390.89 341.50L390.46 341.75L389.90 341.98L389.28 341.78L389.19 341.50L389.28 341.22L389.90 341.19L390.42 341.27Z" fill="#fff"/>
<path d="M397.89 358.40L397.69 358.76L397.30 358.78L397.10 358.40L397.24 357.90L397.81 357.82Z" fill="#fff"/>
<path d="M400.06 358.40L399.71 358.72L399.26 358.78L398.85 358.40L399.19 357.92L399.79 357.95Z" fill="#fff"/>
<path d="M385.08 365.40L384.70 366.05L384.16 365.92L383.90 365.40L384.16 364.86L384.65 364.86Z" fill="#fff"/>
<path d="M360.95 361.50L360.81 362.03L360.31 361.84L360.15 361.50L360.23 361.04L360.75 361.06Z" fill="#fff"/>
<path d="M383.01 359.40L382.80 360.03L382.20 360.03L382.09 359.40L382.29 358.96L382.73 358.93Z" fill="#fff"/>
<path d="M383.08 380.50L382.71 380.89L382.20 381.07L381.79 380.50L382.30 380.13L382.85 379.84Z" fill="#fff"/>
<path d="M381.94 383.40L381.71 383.94L381.11 383.90L381.02 383.40L381.21 383.08L381.72 382.85Z" fill="#fff"/>
<path d="M382.42 371.60L382.25 372.11L381.77 372.08L381.56 371.60L381.79 371.15L382.29 371.00Z" fill="#fff"/>
<path d="M381.51 373.60L381.28 374.09L380.68 374.15L380.38 373.60L380.71 373.10L381.23 373.20Z" fill="#fff"/>
<path d="M377.16 352.60L376.83 353.16L376.28 353.37L376.06 352.60L376.42 352.16L376.88 351.93Z" fill="#fff"/>
<path d="M372.81 350.60L372.60 350.95L372.24 350.87L371.91 350.60L372.24 350.32L372.61 350.24Z" fill="#fff"/>
<path d="M378.4 380.2L376.4 382.2L374.6 384.4" stroke="#2979b9" stroke-width="1.4"/>
<path d="M370.0 385.0L369.4 384.7L367.2 386.9L368.4 388.4L370.6 388.8L371.9 391.3L373.1 393.8L372.5 396.3L368.8 397.8L364.4 399.4L361.3 401.3L359.4 403.4L359.0 406.3L360.3 408.8L362.5 410.3L366.3 410.8L371.3 410.6L376.3 410.0L380.0 409.0L382.2 407.2L383.1 404.4L384.4 402.5L384.3 399.4L383.1 396.9L380.6 394.4L378.1 391.3L376.3 388.1L375.0 384.2L373.2 382.8Z" fill="#2979b9" stroke="#2979b9" stroke-width="0.5"/>
<path d="M394.6 384.0L395.0 387.0L396.3 389.2" stroke="#2979b9" stroke-width="2.0"/>
<path d="M397.2 389.7L394.6 391.2L392.0 392.6" stroke="#2979b9" stroke-width="1.8"/>
<path d="M404.7 329.2L403.6 331.0" stroke="#2979b9" stroke-width="1.2"/>
</g>
<g class="k">
<path d="M180.5 427.2v5.3"/>
<path d="M227.5 427.2v5.3"/>
<path d="M274.5 427.2v5.3"/>
<path d="M322.5 427.2v5.3"/>
<path d="M369.5 427.2v5.3"/>
<path d="M416.5 427.2v5.3"/>
<path d="M463.5 427.2v5.3"/>
<path d="M511.5 427.2v5.3"/>
<path d="M136.0 58.5h-4.5"/>
<path d="M136.0 105.5h-4.5"/>
<path d="M136.0 153.5h-4.5"/>
<path d="M136.0 200.5h-4.5"/>
<path d="M136.0 247.5h-4.5"/>
<path d="M136.0 295.5h-4.5"/>
<path d="M136.0 342.5h-4.5"/>
<path d="M136.0 389.5h-4.5"/>
<path d="M136.5 58.5H520.5V427.5H136.5Z" stroke-linejoin="miter"/>
</g>
<g class="t" text-anchor="middle">
<text x="178.54" y="448.1" style="letter-spacing:-0.15px">5000</text>
<text x="226.66" y="448.1" style="letter-spacing:-0.2px">7500</text>
<text x="273.98" y="448.1" style="letter-spacing:-0.2px">10000</text>
<text x="321.10" y="448.1" style="letter-spacing:-0.15px">12500</text>
<text x="368.02" y="448.1" style="letter-spacing:-0.2px">15000</text>
<text x="415.94" y="448.1" style="letter-spacing:-0.15px">17500</text>
<text x="463.86" y="448.1" style="letter-spacing:-0.1px">20000</text>
<text x="510.78" y="448.1" style="letter-spacing:-0.1px">22500</text>
<text x="328" y="467.1">x</text>
</g>
<g class="t" text-anchor="end">
<text x="125.68" y="63.68" style="letter-spacing:-0.1px">10000</text>
<text x="125.68" y="111.00" style="letter-spacing:-0.15px">12500</text>
<text x="125.68" y="158.32" style="letter-spacing:-0.15px">15000</text>
<text x="125.68" y="205.44" style="letter-spacing:-0.15px">17500</text>
<text x="126.68" y="252.56" style="letter-spacing:-0.1px">20000</text>
<text x="126.68" y="300.28" style="letter-spacing:-0.1px">22500</text>
<text x="126.68" y="347.40" style="letter-spacing:-0.1px">25000</text>
<text x="126.68" y="394.92" style="letter-spacing:-0.1px">27500</text>
</g>
<text class="t" text-anchor="middle" transform="translate(72.9 242.9) rotate(-90)">z</text>
<text text-anchor="middle" transform="translate(328 49.05) scale(1 1.085)" stroke="#000" stroke-width="0.1" style="font-size:16.67px">dendrite probability</text>
</svg></body></html>
